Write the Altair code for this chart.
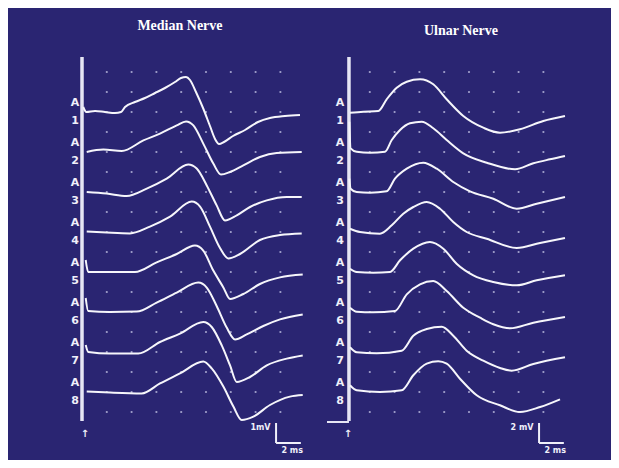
import altair as alt
import pandas as pd

BG = "#2a2572"
TRACE_NAMES = ["1", "2", "3", "4", "5", "6", "7", "8"]
GRID_MS = [2, 4, 6, 8, 10, 12, 14, 16]
GRID_ROWS = list(range(1, 19))          # grid divisions (1 div = 1 mV median, 2 mV ulnar)
PANEL_TITLES = ["Median Nerve", "Ulnar Nerve"]

# ---- Median nerve traces: time (ms) and amplitude (mV) ----
MEDIAN_T = [
    [0.1, 0.35, 1.05, 1.85, 2.66, 3.15, 3.47, 4.27, 5.08, 5.89, 6.69, 7.5, 7.98, 8.39, 8.71, 9.19, 9.76, 10.32, 10.73, 11.05, 11.45, 12.18, 13.15, 14.19, 15.16, 16.37, 17.58],
    [0.38, 1.72, 3.2, 4.95, 6.29, 7.64, 8.39, 8.98, 9.78, 10.59, 11.21, 11.94, 13.01, 14.35, 15.7, 17.72],
    [0.38, 1.99, 3.6, 5.22, 6.83, 8.57, 9.25, 10.06, 10.86, 11.53, 12.48, 13.55, 14.9, 16.51, 17.72],
    [0.38, 1.99, 3.87, 5.48, 7.1, 8.85, 9.52, 10.32, 11.13, 11.8, 12.74, 14.35, 15.97, 17.72],
    [0.3, 0.5, 2.52, 4.27, 6.02, 7.64, 9.11, 9.78, 10.59, 11.4, 11.94, 13.01, 14.35, 15.97, 17.8],
    [0.3, 0.5, 2.26, 4.41, 6.02, 7.64, 9.38, 10.06, 10.86, 11.67, 12.34, 13.28, 14.62, 15.97, 17.8],
    [0.3, 0.51, 2.26, 4.54, 6.29, 7.9, 9.78, 10.46, 11.27, 11.94, 12.48, 13.55, 14.9, 16.51, 17.8],
    [0.38, 2.26, 4.81, 6.29, 7.9, 9.78, 10.46, 11.4, 12.21, 12.88, 13.82, 15.16, 16.77, 17.8],
]
MEDIAN_MV = [
    [0.25, 0, 0.05, 0, -0.05, 0, 0.25, 0.5, 0.7, 0.95, 1.2, 1.5, 1.7, 1.75, 1.6, 1.0, 0.2, -0.7, -1.35, -1.6, -1.5, -1.2, -0.9, -0.5, -0.3, -0.2, -0.15],
    [0, 0.12, 0.05, 0.58, 0.92, 1.33, 1.53, 1.33, 0.42, -0.58, -1.13, -1.0, -0.67, -0.25, -0.05, 0],
    [0, -0.08, -0.2, 0.17, 0.67, 1.37, 1.17, 0.33, -0.67, -1.42, -1.17, -0.75, -0.42, -0.25, -0.25],
    [0.02, -0.03, -0.07, 0.27, 0.77, 1.52, 1.27, 0.27, -0.8, -1.32, -1.1, -0.4, -0.15, -0.07],
    [0.6, 0, 0, 0, 0.48, 0.9, 1.32, 1.07, 0.07, -0.77, -1.35, -1.1, -0.6, -0.27, -0.13],
    [0.7, 0.05, 0, 0.02, 0.47, 0.97, 1.47, 1.22, 0.3, -0.78, -1.37, -1.12, -0.7, -0.37, -0.12],
    [0.35, 0, -0.08, -0.08, 0.5, 0.92, 1.5, 1.25, 0.33, -0.67, -1.5, -1.25, -0.67, -0.33, -0.17],
    [0.02, -0.03, -0.07, 0.43, 0.93, 1.52, 1.18, 0.27, -0.73, -1.4, -1.23, -0.65, -0.23, -0.15],
]

# ---- Ulnar nerve traces: time (ms) and amplitude (mV) ----
ULNAR_T = [
    [0.4, 1.48, 2.69, 3.36, 4.17, 4.98, 6.05, 7.12, 8.2, 9.54, 11.15, 12.5, 14.11, 15.99, 17.74],
    [0.35, 0.45, 0.94, 2.02, 3.23, 3.77, 4.44, 5.24, 6.19, 7.12, 8.2, 9.54, 11.43, 13.71, 15.19, 16.53, 17.74],
    [0.35, 0.45, 0.94, 2.02, 3.36, 4.03, 4.98, 6.31, 7.4, 8.73, 10.08, 11.96, 13.85, 15.46, 17.74],
    [0.4, 1.21, 2.82, 3.77, 4.7, 5.51, 6.59, 7.66, 8.73, 9.81, 11.43, 13.85, 15.73, 17.74],
    [0.4, 0.94, 2.28, 3.63, 4.44, 5.51, 6.85, 7.93, 9.0, 10.35, 11.96, 13.85, 15.46, 17.74],
    [0.4, 0.94, 2.28, 4.03, 4.98, 6.05, 7.12, 8.2, 9.54, 10.89, 11.96, 13.31, 15.19, 17.74],
    [0.4, 0.94, 2.56, 4.57, 5.51, 6.59, 7.8, 8.73, 9.81, 11.15, 12.5, 13.44, 15.19, 17.74],
    [0.4, 0.94, 2.82, 4.57, 5.51, 6.59, 7.52, 8.2, 9.27, 10.62, 12.5, 14.11, 15.73, 17.34],
]
ULNAR_MV = [
    [-0.07, 0.03, 0.1, 1.27, 2.43, 3.03, 3.27, 2.77, 1.27, -0.4, -1.57, -2.07, -1.73, -0.9, -0.4],
    [3.03, 0.37, 0.03, -0.07, 0.03, 1.2, 2.2, 2.87, 3.03, 2.37, 1.2, -0.13, -1.07, -1.73, -1.13, -0.73, -0.4],
    [1.33, 0.33, 0, -0.07, 0.07, 1.33, 2.33, 2.93, 2.33, 1.0, 0.07, -0.67, -1.67, -1.17, -0.5],
    [0.33, 0, -0.17, 0.67, 1.83, 2.5, 3.0, 2.33, 1.0, 0, -0.67, -1.6, -1.1, -0.6],
    [0.33, 0, -0.07, 0, 1.17, 2.33, 3.0, 2.33, 0.83, -0.33, -1.0, -1.33, -0.83, -0.33],
    [0.43, 0.03, -0.03, 0.1, 1.77, 2.77, 3.1, 2.1, 0.43, -0.57, -1.23, -1.63, -1.07, -0.5],
    [0.47, -0.03, -0.13, 0.13, 1.63, 2.3, 2.53, 1.63, 0.13, -0.87, -1.6, -1.87, -1.2, -0.53],
    [0.67, 0.17, 0, 0.17, 1.67, 2.83, 3.07, 2.83, 1.33, -0.33, -1.33, -2.0, -1.5, -0.73],
]

SCALE_MV = [1, 2]      # vertical calibration bar, mV
SCALE_MS = 2           # horizontal calibration bar, ms
SCALE_LABELS = [["1mV", "2 ms"], ["2 mV", "2 ms"]]

PX_PER_MS = 12.4
PX_PER_DIV = 20


def make_panel(idx, times, amps, width, left_px, bar_t, label_t, title_t, title_div, with_tick):
    unit = SCALE_MV[idx]                        # mV per grid division
    height = 452
    x0 = -left_px / PX_PER_MS
    xdom = [x0, x0 + width / PX_PER_MS]
    ydom = [-1.4 * unit, 21.2 * unit]
    X = lambda f: alt.X(f, type="quantitative", scale=alt.Scale(domain=xdom, nice=False, zero=False), axis=None)
    Y = lambda f: alt.Y(f, type="quantitative", scale=alt.Scale(domain=ydom, nice=False, zero=False), axis=None)

    rows = []
    for i, (ts, ms) in enumerate(zip(times, amps)):
        off = (16 - 2 * i) * unit
        for j, (t, m) in enumerate(zip(ts, ms)):
            rows.append({"t": t, "v": off + m, "trace": TRACE_NAMES[i], "k": j})
    traces = pd.DataFrame(rows)

    grid = pd.DataFrame([{"t": c, "v": r * unit} for c in GRID_MS for r in GRID_ROWS])

    labels = []
    for i, name in enumerate(TRACE_NAMES):
        off = (16 - 2 * i) * unit
        labels.append({"t": label_t, "v": off + 0.45 * unit, "txt": "A"})
        labels.append({"t": label_t, "v": off - 0.45 * unit, "txt": name})
    labels = pd.DataFrame(labels)

    rules = [{"t": bar_t, "t2": bar_t, "v": 18.75 * unit, "v2": 0.55 * unit, "w": 3.5}]
    if with_tick:
        rules.append({"t": -1.45, "t2": bar_t, "v": 0.5 * unit, "v2": 0.5 * unit, "w": 2})
    rules = pd.DataFrame(rules)

    sb_t = 15.65
    sb_lo = -0.55 * unit
    calib = pd.DataFrame([
        {"t": sb_t, "t2": sb_t, "v": sb_lo, "v2": sb_lo + SCALE_MV[idx]},
        {"t": sb_t, "t2": sb_t + SCALE_MS, "v": sb_lo, "v2": sb_lo},
    ])
    calib_txt = pd.DataFrame([
        {"t": sb_t - 0.45, "v": 0.2 * unit, "txt": SCALE_LABELS[idx][0], "al": "right"},
        {"t": sb_t + 1.3, "v": -0.95 * unit, "txt": SCALE_LABELS[idx][1], "al": "center"},
    ])
    arrow = pd.DataFrame([{"t": 0.24, "v": -0.1 * unit, "txt": "\u2191"}])
    title = pd.DataFrame([{"t": title_t, "v": title_div * unit, "txt": PANEL_TITLES[idx]}])

    dots = alt.Chart(grid).mark_circle(size=5, color="#b9b9dc", opacity=0.85).encode(x=X("t"), y=Y("v"))
    bar = alt.Chart(rules).mark_rule(color="#e6e6f4").encode(
        x=X("t"), x2="t2", y=Y("v"), y2="v2", strokeWidth=alt.StrokeWidth("w:Q", scale=None))
    lines = alt.Chart(traces).mark_line(color="#f6f6fb", strokeWidth=2, interpolate="monotone").encode(
        x=X("t"), y=Y("v"), detail="trace:N", order="k:Q")
    lab = alt.Chart(labels).mark_text(color="#f0f0fa", font="DejaVu Sans", fontWeight="bold",
                                      fontSize=11, baseline="middle").encode(x=X("t"), y=Y("v"), text="txt:N")
    cal = alt.Chart(calib).mark_rule(color="#f0f0fa", strokeWidth=2).encode(x=X("t"), x2="t2", y=Y("v"), y2="v2")
    cal_t_r = alt.Chart(calib_txt[calib_txt.al == "right"]).mark_text(
        color="#f0f0fa", font="DejaVu Sans", fontWeight="bold", fontSize=8, align="right", baseline="middle"
    ).encode(x=X("t"), y=Y("v"), text="txt:N")
    cal_t_c = alt.Chart(calib_txt[calib_txt.al == "center"]).mark_text(
        color="#f0f0fa", font="DejaVu Sans", fontWeight="bold", fontSize=8, align="center", baseline="middle"
    ).encode(x=X("t"), y=Y("v"), text="txt:N")
    arr = alt.Chart(arrow).mark_text(color="#f0f0fa", font="DejaVu Sans", fontWeight="bold",
                                     fontSize=10, baseline="middle").encode(x=X("t"), y=Y("v"), text="txt:N")
    ttl = alt.Chart(title).mark_text(color="#ffffff", font="Liberation Serif", fontWeight="bold",
                                     fontSize=14, baseline="middle").encode(x=X("t"), y=Y("v"), text="txt:N")

    return alt.layer(dots, bar, lines, lab, cal, cal_t_r, cal_t_c, arr, ttl).properties(width=width, height=height)


left = make_panel(0, MEDIAN_T, MEDIAN_MV, 307, 74, 0.0, -0.56, 7.9, 20.3, False)
right = make_panel(1, ULNAR_T, ULNAR_MV, 296, 30, 0.32, -0.4, 9.35, 20.05, True)

chart = alt.hconcat(left, right, spacing=0).properties(
    background=BG, padding=0
).configure_view(stroke=None)

chart.save("out.html", embed_options={"renderer": "svg", "actions": False})
